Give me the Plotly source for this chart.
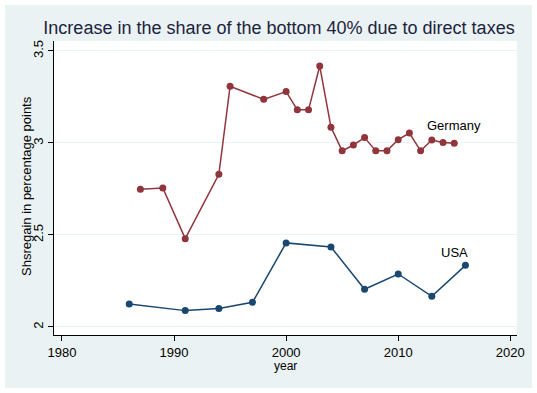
import plotly.graph_objects as go

# Data
germany_years = [1987, 1989, 1991, 1994, 1995, 1998, 2000, 2001, 2002, 2003, 2004,
                 2005, 2006, 2007, 2008, 2009, 2010, 2011, 2012, 2013, 2014, 2015]
germany_vals = [2.748, 2.755, 2.480, 2.830, 3.308, 3.237, 3.279, 3.180, 3.180, 3.418, 3.086,
                2.957, 2.989, 3.029, 2.957, 2.957, 3.018, 3.054, 2.957, 3.016, 3.002, 2.998]
usa_years = [1986, 1991, 1994, 1997, 2000, 2004, 2007, 2010, 2013, 2016]
usa_vals = [2.125, 2.089, 2.100, 2.134, 2.457, 2.435, 2.205, 2.288, 2.167, 2.335]
x_ticks = [1980, 1990, 2000, 2010, 2020]
y_ticks = [2, 2.5, 3, 3.5]
y_tick_labels = ["2", "2.5", "3", "3.5"]

W, H = 537, 393
ML, MR, MT, MB = 54, 20, 41, 58
PW, PH = W - ML - MR, H - MT - MB

def px_x(p):
    return (p - ML) / PW

def px_y(p):
    return (H - MB - p) / PH

FONT = "Liberation Sans, Arial, sans-serif"
GER_COL = "#90353B"
USA_COL = "#1A476F"
BG = "#EAF2F3"

fig = go.Figure()
fig.add_trace(go.Scatter(x=germany_years, y=germany_vals, mode="lines+markers",
                         line=dict(color=GER_COL, width=1.5),
                         marker=dict(color=GER_COL, size=7), showlegend=False))
fig.add_trace(go.Scatter(x=usa_years, y=usa_vals, mode="lines+markers",
                         line=dict(color=USA_COL, width=1.5),
                         marker=dict(color=USA_COL, size=7), showlegend=False))

fig.add_annotation(x=germany_years[-1], y=germany_vals[-1], text="Germany", showarrow=False,
                   yanchor="bottom", xanchor="center", yshift=8,
                   font=dict(family=FONT, size=13, color="#000000"))
fig.add_annotation(x=usa_years[-1], y=usa_vals[-1], text="USA", showarrow=False,
                   yanchor="bottom", xanchor="center", yshift=3, xshift=-11,
                   font=dict(family=FONT, size=13, color="#000000"))

# axis titles as annotations
fig.add_annotation(xref="paper", yref="paper", x=px_x(285.5), y=px_y(366), text="year",
                   showarrow=False, xanchor="center", yanchor="middle",
                   font=dict(family=FONT, size=12, color="#000000"))
fig.add_annotation(xref="paper", yref="paper", x=px_x(26), y=px_y(186),
                   text="Shsregain in percentage points", textangle=-90,
                   showarrow=False, xanchor="center", yanchor="middle",
                   font=dict(family=FONT, size=13, color="#000000"))

fig.update_layout(
    width=W, height=H,
    margin=dict(l=ML, r=MR, t=MT, b=MB, pad=0),
    paper_bgcolor="white", plot_bgcolor="white",
    title=dict(text="Increase in the share of the bottom 40% due to direct taxes",
               x=px_x(279), xref="paper", xanchor="center",
               y=1 - 28 / H, yref="container", yanchor="middle",
               font=dict(family=FONT, size=18, color="#1c2340")),
    shapes=[
        dict(type="rect", xref="paper", yref="paper", layer="below",
             x0=px_x(5), x1=px_x(532), y0=px_y(388), y1=px_y(5),
             fillcolor=BG, line=dict(width=0)),
        dict(type="rect", xref="paper", yref="paper", layer="below",
             x0=0, x1=1, y0=0, y1=1, fillcolor="white", line=dict(width=0)),
    ],
)
fig.update_xaxes(range=[1979.29, 2020.6], tickvals=x_ticks, showgrid=False, zeroline=False,
                 showline=True, linecolor="black", linewidth=1, ticks="outside", ticklen=5,
                 tickcolor="black", tickfont=dict(family=FONT, size=13, color="#000000"))
fig.update_yaxes(range=[1.9565, 3.554], tickvals=y_ticks, ticktext=y_tick_labels,
                 tickangle=-90, showgrid=True, gridcolor=BG, gridwidth=1, zeroline=False,
                 showline=True, linecolor="black", linewidth=1, ticks="outside", ticklen=5,
                 tickcolor="black",
                 tickfont=dict(family=FONT, size=13, color="#000000"))

fig.write_html("out.html", config={"displayModeBar": False},
               post_script="document.body.style.margin='0';document.body.style.overflow='hidden';")
